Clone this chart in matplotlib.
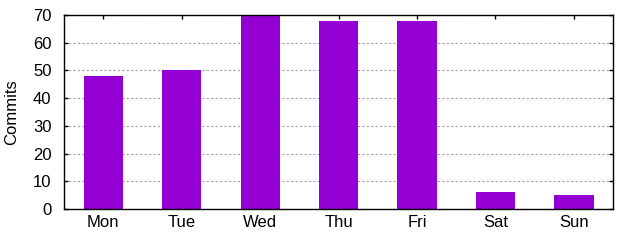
import matplotlib
matplotlib.use("Agg")
import matplotlib.pyplot as plt

days = ["Mon", "Tue", "Wed", "Thu", "Fri", "Sat", "Sun"]
commits = [48, 50, 70, 68, 68, 6, 5]

plt.rcParams['font.family'] = ['Liberation Sans', 'DejaVu Sans']
plt.rcParams['font.size'] = 12

fig = plt.figure(figsize=(6.4, 2.4), dpi=100)
ax = fig.add_axes([0.1, 0.129, 0.858, 0.8085])

x = range(len(days))
ax.bar(x, commits, width=0.5, color='#9400d3', zorder=2)

ax.set_xlim(-0.5, len(days) - 0.5)
ax.set_ylim(0, 70)
ax.set_yticks(range(0, 71, 10))
ax.set_xticks(list(x))
ax.set_xticklabels(days)
ax.set_ylabel("Commits")
ax.yaxis.set_label_coords(-0.081, 0.5)

ax.yaxis.grid(True, linestyle=(0, (2, 2)), color='#a0a0a0', linewidth=0.8, zorder=0)
ax.tick_params(direction='in', length=3, width=1, top=True, right=True, colors='black')
ax.tick_params(axis='x', which='both', top=True, bottom=False, pad=4.5)
ax.tick_params(axis='y', pad=9)
for s in ax.spines.values():
    s.set_linewidth(1)

fig.savefig("out.png", dpi=100)
